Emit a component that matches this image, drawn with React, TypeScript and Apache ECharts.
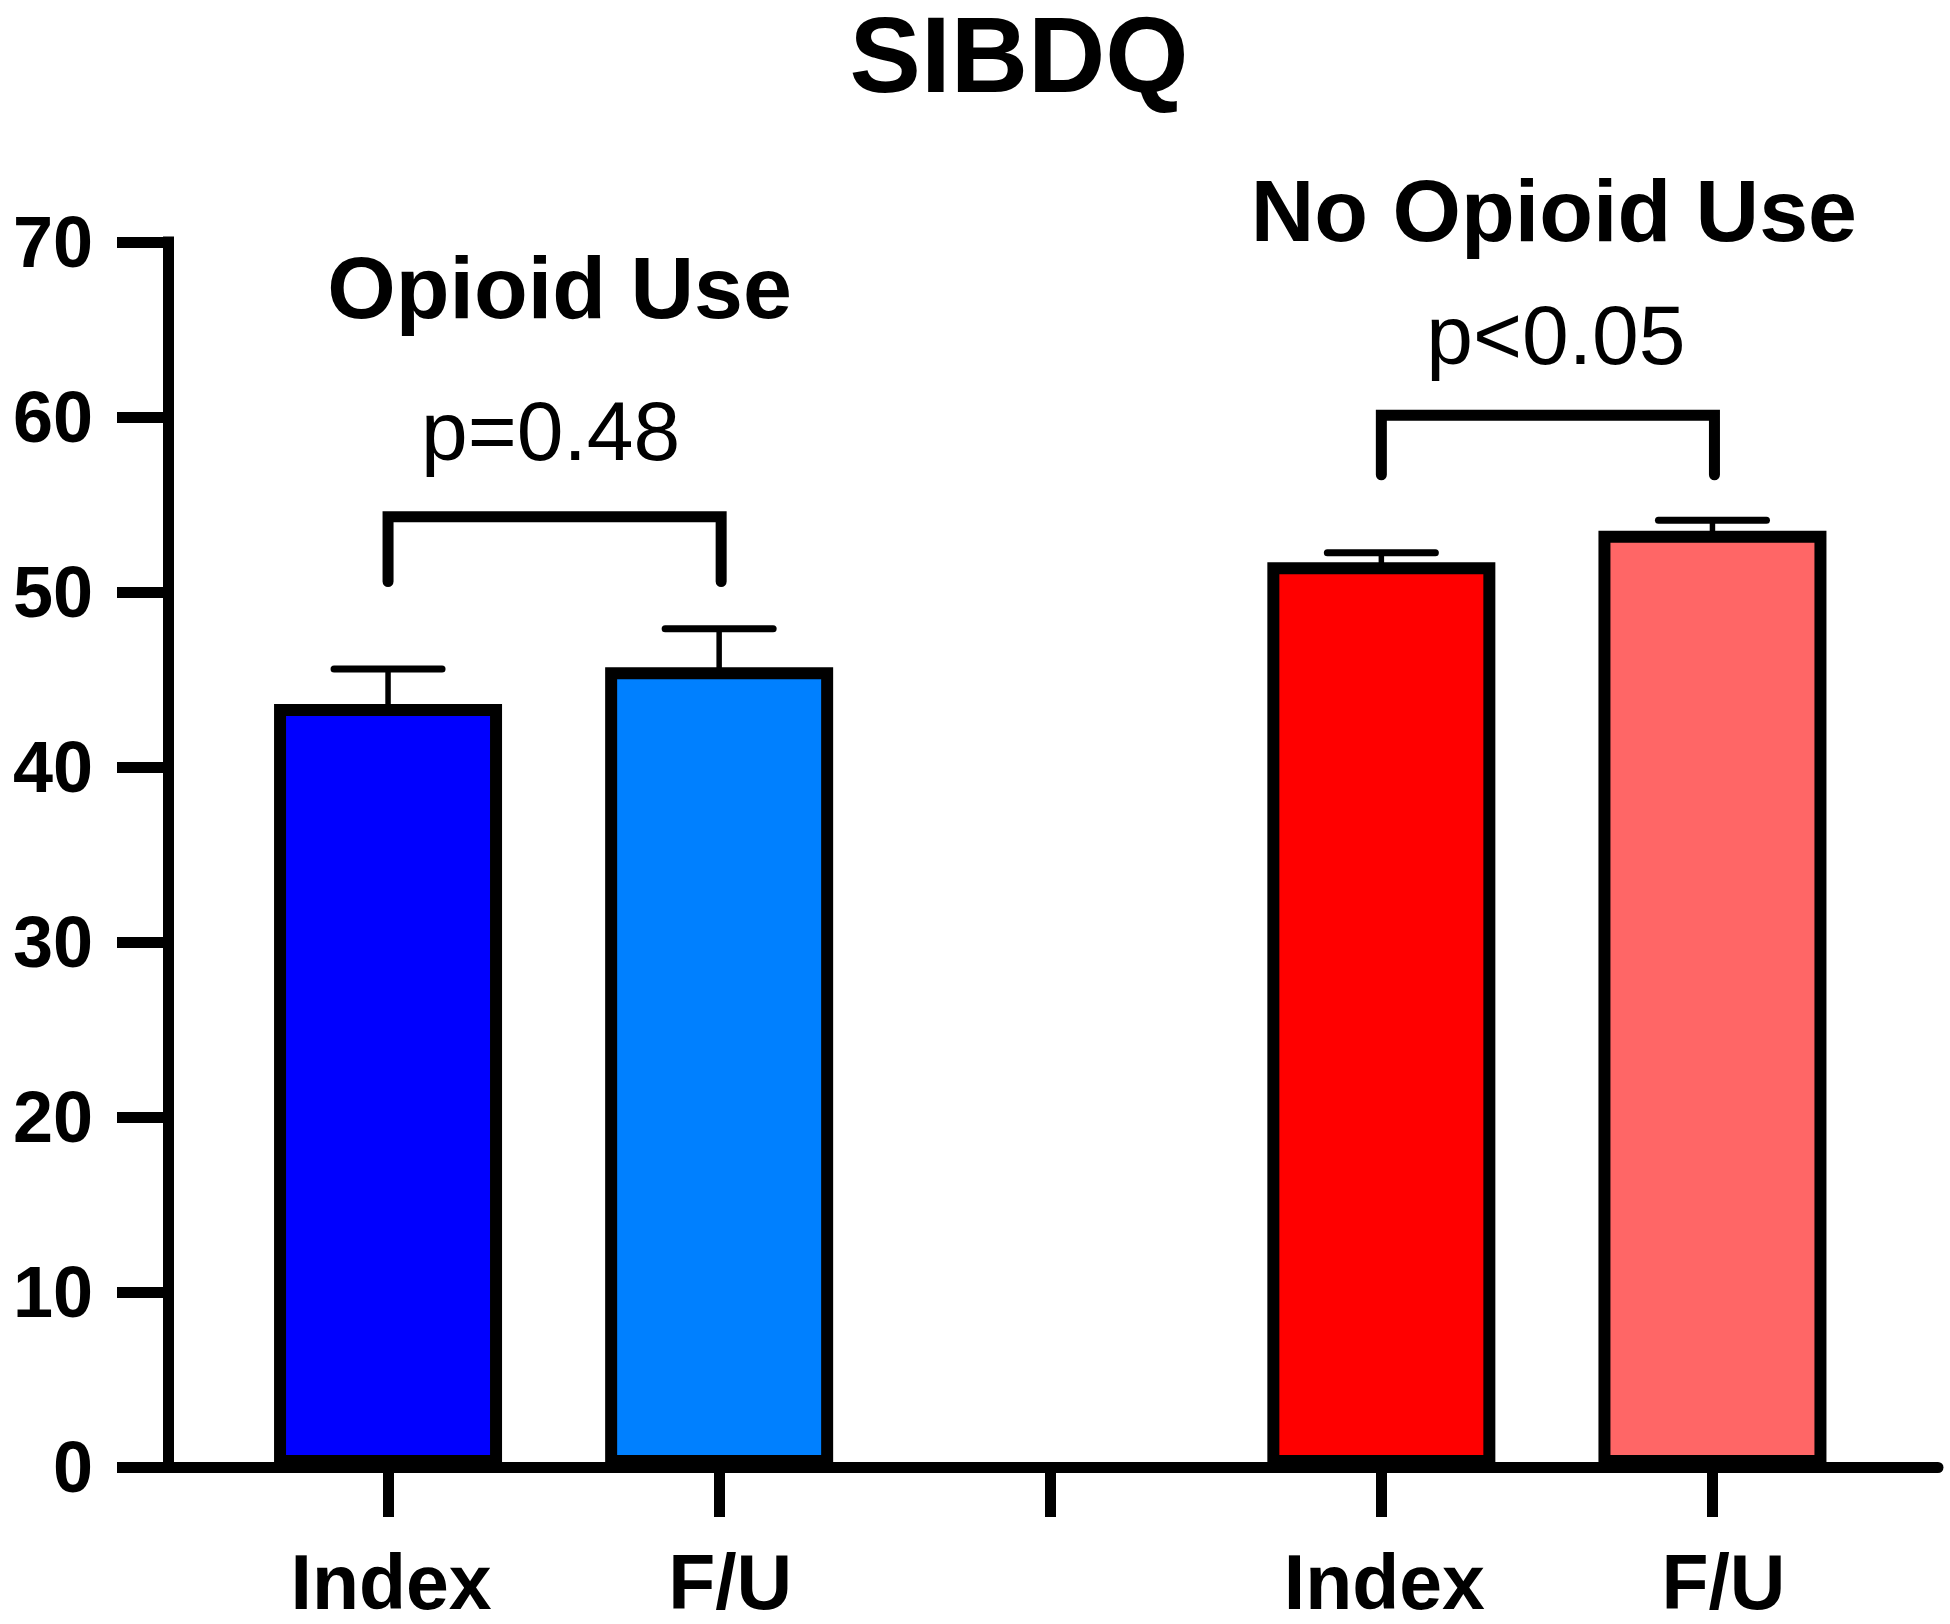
import React, { useEffect, useRef } from "react";
import * as echarts from "echarts";

const FONT = "'Liberation Sans', Arial, Helvetica, sans-serif";

// ---- data ----
const categories = ["Opioid Index", "Opioid F/U", "Gap", "No Opioid Index", "No Opioid F/U"];
const tickLabels = ["Index", "F/U", "", "Index", "F/U"];
const means: (number | null)[] = [43.6, 45.7, null, 51.7, 53.5];
const sem: (number | null)[] = [2.0, 2.2, null, 0.55, 0.6];
const barColors = ["#0000FF", "#0080FF", "#FFFFFF", "#FF0000", "#FF6666"];

const yMin = 0;
const yMax = 70;
const yStep = 10;

// comparison annotations
const groupLabels = ["Opioid Use", "No Opioid Use"];
const pLabels = ["p=0.48", "p<0.05"];
const bracketFrom = [0, 3];
const bracketTo = [1, 4];
const bracketTop = [54.3, 60.1];
const bracketLeg = [50.6, 56.7];
const groupLabelLevel = [67.4, 71.8];
const pLabelLevel = [59.2, 64.7];

// small horizontal nudges (px) for annotation texts
const groupLabelNudge = [6, 7];
const pLabelNudge = [-3, 9];

export default function App() {
  const ref = useRef<HTMLDivElement>(null);

  useEffect(() => {
    if (!ref.current) return;
    const chart = echarts.init(ref.current, undefined, { renderer: "svg" });

    const barData = means.map((v, i) =>
      v == null ? "-" : { value: v, itemStyle: { color: barColors[i] } }
    );
    const errData: number[][] = [];
    means.forEach((m, i) => {
      if (m != null && sem[i] != null) errData.push([i, m, sem[i] as number]);
    });
    const bracketData = groupLabels.map((_, k) => [
      bracketFrom[k],
      bracketTo[k],
      bracketTop[k],
      bracketLeg[k],
      groupLabelLevel[k],
      pLabelLevel[k],
      k,
    ]);

    const labelText = {
      fontSize: 77,
      fontWeight: "bold",
      fontFamily: FONT,
      color: "#000",
      lineHeight: 70,
    };

    const option: any = {
      animation: false,
      backgroundColor: "#ffffff",
      title: {
        text: "SIBDQ",
        left: 1014,
        top: 0,
        textAlign: "center",
        textStyle: {
          fontSize: 107,
          lineHeight: 99,
          fontWeight: "bold",
          fontFamily: FONT,
          color: "#000",
        },
      },
      grid: [
        { left: 168, right: 12, top: 242, bottom: 157 },
        { left: 222.5, width: 1655.5, top: 242, bottom: 157 },
      ],
      xAxis: [
        {
          gridIndex: 0,
          type: "value",
          min: 0,
          max: 1,
          axisLine: { show: true, onZero: false, lineStyle: { color: "#000", width: 11 } },
          axisTick: { show: false },
          axisLabel: { show: false },
          splitLine: { show: false },
        },
        {
          gridIndex: 1,
          type: "category",
          data: categories,
          axisLine: { show: false },
          axisTick: {
            show: true,
            alignWithLabel: true,
            length: 50,
            lineStyle: { color: "#000", width: 11 },
          },
          axisLabel: {
            interval: 0,
            formatter: (_v: string, i: number) => {
              const t = tickLabels[i];
              if (!t) return "";
              return t === "F/U" ? `{fu|${t}}` : `{idx|${t}}`;
            },
            margin: 80,
            ...labelText,
            rich: {
              idx: { ...labelText, padding: [0, 0, 0, 6] },
              fu: { ...labelText, padding: [0, 0, 0, 22] },
            },
          },
          splitLine: { show: false },
        },
      ],
      yAxis: [
        {
          gridIndex: 0,
          type: "value",
          min: yMin,
          max: yMax,
          interval: yStep,
          axisLine: { show: true, lineStyle: { color: "#000", width: 11, cap: "square" } },
          axisTick: { show: true, length: 51, lineStyle: { color: "#000", width: 11 } },
          axisLabel: {
            margin: 75,
            fontSize: 72,
            fontWeight: "bold",
            fontFamily: FONT,
            color: "#000",
          },
          splitLine: { show: false },
        },
        {
          gridIndex: 1,
          type: "value",
          min: yMin,
          max: yMax,
          interval: yStep,
          show: false,
          splitLine: { show: false },
        },
      ],
      series: [
        {
          type: "bar",
          xAxisIndex: 1,
          yAxisIndex: 1,
          data: barData,
          barWidth: 228,
          itemStyle: { borderColor: "#000", borderWidth: 12 },
          z: 2,
        },
        {
          type: "custom",
          xAxisIndex: 1,
          yAxisIndex: 1,
          data: errData,
          z: 3,
          encode: { x: 0, y: 1 },
          renderItem: (_params: any, api: any) => {
            const x = api.value(0);
            const m = api.value(1);
            const e = api.value(2);
            const base = api.coord([x, m]);
            const top = api.coord([x, m + e]);
            return {
              type: "group",
              children: [
                {
                  type: "line",
                  shape: { x1: base[0], y1: base[1] + 6, x2: top[0], y2: top[1] },
                  style: { stroke: "#000", lineWidth: 5.5 },
                },
                {
                  type: "line",
                  shape: { x1: top[0] - 54, y1: top[1], x2: top[0] + 54, y2: top[1] },
                  style: { stroke: "#000", lineWidth: 7, lineCap: "round" },
                },
              ],
            };
          },
        },
        {
          type: "custom",
          xAxisIndex: 1,
          yAxisIndex: 1,
          data: bracketData,
          z: 4,
          clip: false,
          encode: { x: 0, y: 2 },
          renderItem: (_params: any, api: any) => {
            const a = api.value(0);
            const b = api.value(1);
            const topV = api.value(2);
            const legV = api.value(3);
            const gV = api.value(4);
            const pV = api.value(5);
            const k = api.value(6);
            const pa = api.coord([a, topV]);
            const pb = api.coord([b, topV]);
            const la = api.coord([a, legV]);
            const mid = (pa[0] + pb[0]) / 2;
            const gy = api.coord([a, gV])[1];
            const py = api.coord([a, pV])[1];
            return {
              type: "group",
              children: [
                {
                  type: "polyline",
                  shape: {
                    points: [
                      [pa[0], la[1]],
                      [pa[0], pa[1]],
                      [pb[0] + 2, pb[1]],
                      [pb[0] + 2, la[1]],
                    ],
                  },
                  style: {
                    stroke: "#000",
                    lineWidth: 11,
                    fill: "none",
                    lineCap: "round",
                    lineJoin: "miter",
                  },
                },
                {
                  type: "text",
                  x: mid + groupLabelNudge[k],
                  y: gy,
                  style: {
                    text: groupLabels[k],
                    font: `bold 88px ${FONT}`,
                    fill: "#000",
                    textAlign: "center",
                    textVerticalAlign: "middle",
                  },
                },
                {
                  type: "text",
                  x: mid + pLabelNudge[k],
                  y: py,
                  style: {
                    text: pLabels[k],
                    font: `84px ${FONT}`,
                    fill: "#000",
                    textAlign: "center",
                    textVerticalAlign: "middle",
                  },
                },
              ],
            };
          },
        },
      ],
    };

    chart.setOption(option);
    return () => chart.dispose();
  }, []);

  return (
    <div
      ref={ref}
      style={{ position: "fixed", left: 0, top: 0, width: 1950, height: 1624, background: "#fff" }}
    />
  );
}
